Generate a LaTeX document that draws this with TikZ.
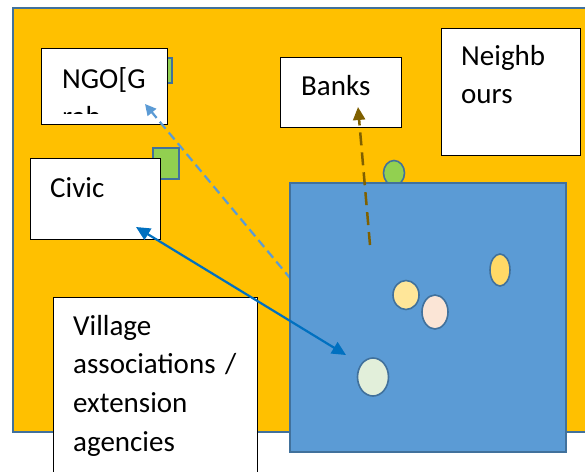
\documentclass[tikz,border=0pt]{standalone}
\usepackage{fontspec}
\setmainfont{Carlito}
\usepackage{tikz}
\usetikzlibrary{arrows.meta}
\usetikzlibrary{shapes.geometric}

\definecolor{ringblue}{HTML}{41719C}
\definecolor{sea}{HTML}{5B9BD5}
\definecolor{field}{HTML}{FFC000}
\definecolor{leaf}{HTML}{92D050}
\definecolor{mud}{HTML}{7F6000}
\definecolor{link}{HTML}{0070C0}
\definecolor{cream}{HTML}{FFE699}
\definecolor{blush}{HTML}{FBE5D6}
\definecolor{gold}{HTML}{FFD966}
\definecolor{mint}{HTML}{E2EFDA}

\begin{document}
\begin{tikzpicture}[x=1pt, y=-1pt,
	box/.style={draw=black, line width=1.1pt, fill=white, rectangle, anchor=north west, inner sep=0pt},
	shp/.style={draw=ringblue, line width=1.6pt, inner sep=0pt},
	lbl/.style={font=\fontsize{29}{38.8}\selectfont, inner sep=0pt, anchor=base west, text width=190pt, align=left},
	blob/.style={shp, ellipse, fill=#1}]
	\useasboundingbox (0,0) rectangle (585,471);
	\clip (0,0) rectangle (585,471);

	% background area
	\node[shp, rectangle, fill=field, anchor=north west, minimum width=600pt, minimum height=424pt] (area) at (12,7) {};

	% boxes of the left side
	\node[shp, rectangle, fill=leaf, anchor=north west, minimum width=11pt, minimum height=25pt] (tag) at (160,57) {};
	\node[box, minimum width=126pt, minimum height=76pt] (ngo) at (41,48) {};
	\begin{scope}
		\clip (41,48) rectangle (167,113);
		\node[lbl] (ngo text) at (62,88) {NGO[G\\rab};
	\end{scope}
	\node[shp, rectangle, fill=leaf, anchor=north west, minimum width=26pt, minimum height=31pt] (patch) at (152,147) {};
	\node[box, minimum width=130pt, minimum height=81pt] (civic) at (30,158) {};
	\node[lbl] (civic text) at (50,197) {Civic};

	% boxes of the upper right
	\node[box, minimum width=121pt, minimum height=70pt] (banks) at (280,57) {};
	\node[lbl] (banks text) at (301,95) {Banks};
	\node[box, minimum width=139pt, minimum height=127pt] (neighbours) at (441,28) {};
	\node[lbl] (neighbours text) at (461,65) {Neighb\\ours};
	\node[blob=leaf, minimum width=21pt, minimum height=25pt] (dot) at (394,173) {};

	% dashed link running under the village
	\coordinate (ngo end) at (145,104);
	\coordinate (ngo start) at (300,290);
	\draw[sea, line width=2.2pt, dash pattern=on 9pt off 5pt, -{Triangle[length=11pt, width=11pt]}] (ngo start) -- (ngo end);

	% the village
	\node[shp, rectangle, fill=sea, anchor=north west, minimum width=276pt, minimum height=269pt] (village) at (289,182) {};
	\node[blob=cream, minimum width=26pt, minimum height=29pt] (home1) at (406,295) {};
	\node[blob=blush, minimum width=26pt, minimum height=34pt] (home2) at (435,312) {};
	\node[blob=gold, minimum width=20pt, minimum height=32pt] (home3) at (500,270) {};
	\node[blob=mint, minimum width=31pt, minimum height=38pt] (home4) at (373,377) {};

	\coordinate (banks start) at (370,245);
	\coordinate (banks end) at (358,107);
	\draw[mud, line width=2.5pt, dash pattern=on 13pt off 7pt, -{Triangle[length=13pt, width=12pt]}] (banks start) -- (banks end);

	% associations box
	\node[box, minimum width=204pt, minimum height=200pt] (assoc) at (53,297) {};
	\node[lbl] (assoc text) at (73,335) {Village\\associations /\\extension\\agencies};

	\coordinate (civic end) at (136,227);
	\coordinate (home end) at (346,355);
	\draw[link, line width=2.2pt, {Triangle[length=14pt, width=13pt]}-{Triangle[length=14pt, width=13pt]}] (civic end) -- (home end);
\end{tikzpicture}
\end{document}
